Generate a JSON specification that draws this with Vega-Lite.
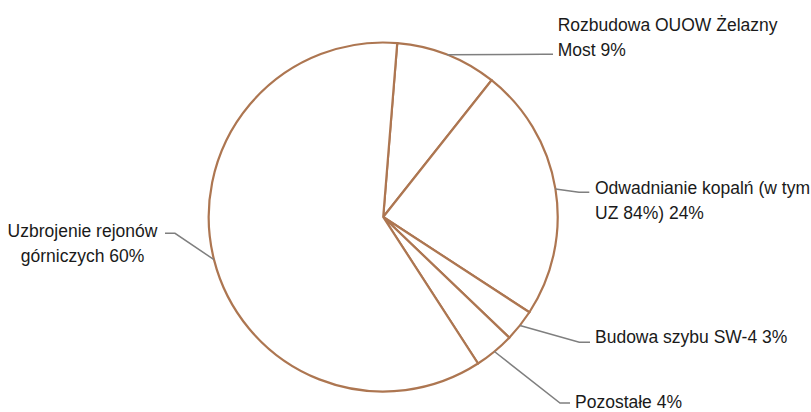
{
  "$schema": "https://vega.github.io/schema/vega-lite/v6.json",
  "width": 811,
  "height": 412,
  "autosize": {"type": "none"},
  "padding": 0,
  "background": "white",
  "config": {"view": {"stroke": null}},
  "data": {
    "values": [
      {"idx": 0, "category": "Rozbudowa OUOW Żelazny Most", "value": 9.38, "label": "Rozbudowa OUOW Żelazny\nMost 9%"},
      {"idx": 1, "category": "Odwadnianie kopalń (w tym UZ 84%)", "value": 23.53, "label": "Odwadnianie kopalń (w tym\nUZ 84%) 24%"},
      {"idx": 2, "category": "Budowa szybu SW-4", "value": 2.96, "label": "Budowa szybu SW-4 3%"},
      {"idx": 3, "category": "Pozostałe", "value": 3.71, "label": "Pozostałe 4%"},
      {"idx": 4, "category": "Uzbrojenie rejonów górniczych", "value": 60.42, "label": "Uzbrojenie rejonów\ngórniczych 60%"}
    ]
  },
  "transform": [
    {"window": [{"op": "sum", "field": "value", "as": "cum"}], "sort": [{"field": "idx"}], "frame": [null, 0]},
    {"joinaggregate": [{"op": "sum", "field": "value", "as": "total"}]},
    {"calculate": "0.0805 + 2*PI*(datum.cum - datum.value)/datum.total", "as": "a0"},
    {"calculate": "0.0805 + 2*PI*datum.cum/datum.total", "as": "a1"},
    {"calculate": "(datum.a0 + datum.a1)/2", "as": "am"},
    {"calculate": "174.5*sin(datum.am)", "as": "ax"},
    {"calculate": "174.5*cos(datum.am)", "as": "ay"},
    {"calculate": "[174.5, 211.8, 211.8, 191.8, -300.7][datum.idx]", "as": "lx"},
    {"calculate": "[186, 22.7, -126.3, -190.5, -20.3][datum.idx]", "as": "ly"}
  ],
  "layer": [
    {
      "mark": {"type": "arc", "outerRadius": 174.5, "fill": "white", "stroke": "#ad7651", "strokeWidth": 2.2},
      "encoding": {
        "x": {"datum": 0, "type": "quantitative", "scale": {"domain": [-383.2, 427.8], "nice": false, "zero": false}, "axis": null},
        "y": {"datum": 0, "type": "quantitative", "scale": {"domain": [-195, 217], "nice": false, "zero": false}, "axis": null},
        "theta": {"field": "a0", "type": "quantitative", "scale": null},
        "theta2": {"field": "a1"}
      }
    },
    {
      "transform": [
        {"calculate": "[datum.ax, [159.8, 195.8, 196.1, 176.8, -208.2][datum.idx], [169.8, 206.1, 206.8, 186.8, -218.2][datum.idx]]", "as": "px"},
        {"calculate": "[datum.ay, [162.7, 24.7, -125.3, -186, -16.3][datum.idx], [162.7, 24.7, -125.3, -186, -16.3][datum.idx]]", "as": "py"},
        {"calculate": "[0, 1, 2]", "as": "k"},
        {"flatten": ["px", "py", "k"]}
      ],
      "mark": {"type": "line", "stroke": "#7f7f7f", "strokeWidth": 1.5},
      "encoding": {
        "x": {"field": "px", "type": "quantitative", "scale": {"domain": [-383.2, 427.8], "nice": false, "zero": false}, "axis": null},
        "y": {"field": "py", "type": "quantitative", "scale": {"domain": [-195, 217], "nice": false, "zero": false}, "axis": null},
        "detail": {"field": "idx", "type": "nominal"},
        "order": {"field": "k", "type": "quantitative"}
      }
    },
    {
      "transform": [{"filter": "datum.idx < 4"}],
      "mark": {"type": "text", "align": "left", "baseline": "alphabetic", "font": "Liberation Sans, Arial", "fontSize": 17.5, "lineHeight": 25, "lineBreak": "\n", "color": "#1a1a1a"},
      "encoding": {
        "x": {"field": "lx", "type": "quantitative", "scale": {"domain": [-383.2, 427.8], "nice": false, "zero": false}, "axis": null},
        "y": {"field": "ly", "type": "quantitative", "scale": {"domain": [-195, 217], "nice": false, "zero": false}, "axis": null},
        "text": {"field": "label"}
      }
    },
    {
      "transform": [{"filter": "datum.idx == 4"}],
      "mark": {"type": "text", "align": "center", "baseline": "alphabetic", "font": "Liberation Sans, Arial", "fontSize": 17.5, "lineHeight": 25, "lineBreak": "\n", "color": "#1a1a1a"},
      "encoding": {
        "x": {"field": "lx", "type": "quantitative", "scale": {"domain": [-383.2, 427.8], "nice": false, "zero": false}, "axis": null},
        "y": {"field": "ly", "type": "quantitative", "scale": {"domain": [-195, 217], "nice": false, "zero": false}, "axis": null},
        "text": {"field": "label"}
      }
    }
  ]
}
